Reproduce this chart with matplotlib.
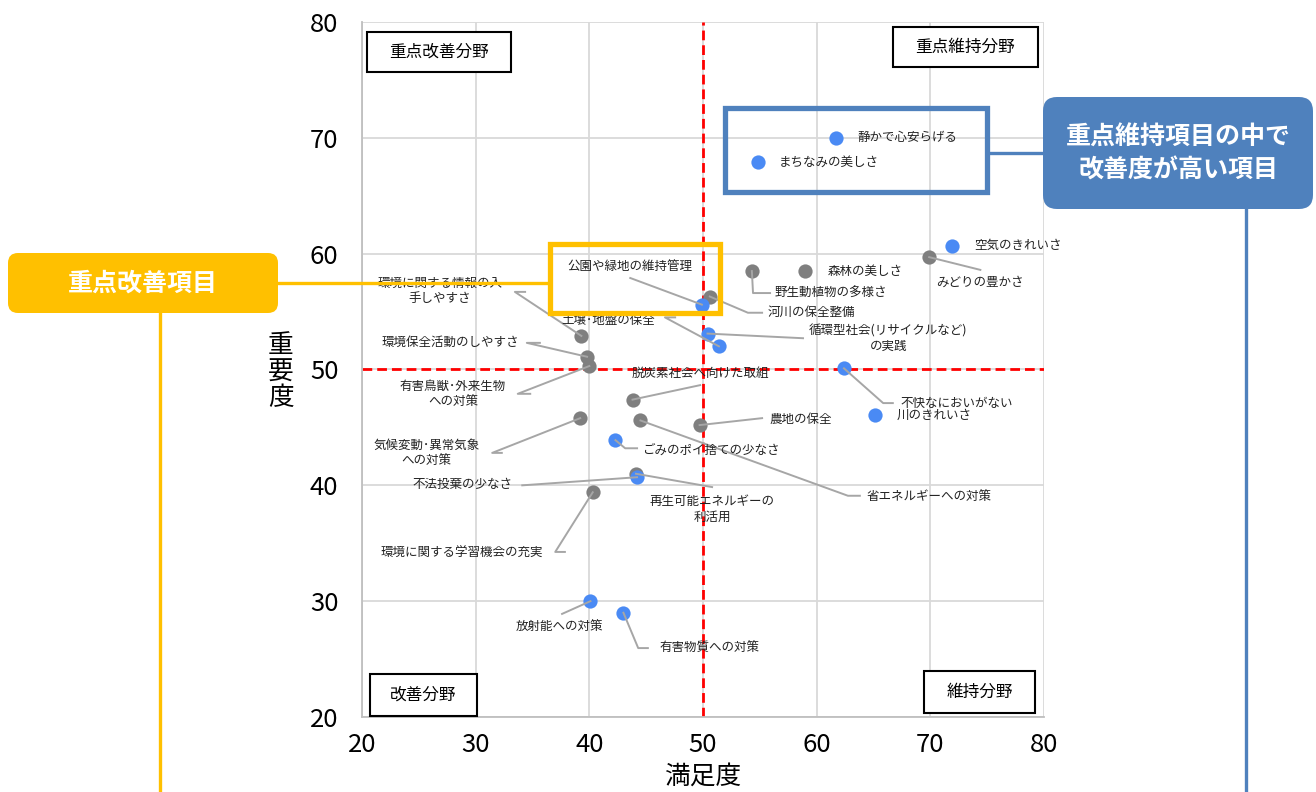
import matplotlib
matplotlib.use("Agg")
import matplotlib.pyplot as plt
from matplotlib.patches import FancyBboxPatch, Rectangle

plt.rcParams['font.family'] = ['Noto Sans CJK JP', 'DejaVu Sans']

# data: 満足度 (x), 重要度 (y)
items = ['静かで心安らげる', 'まちなみの美しさ', '空気のきれいさ', 'みどりの豊かさ',
         '森林の美しさ', '野生動植物の多様さ', '河川の保全整備', '公園や緑地の維持管理',
         '循環型社会(リサイクルなど)\nの実践', '土壌･地盤の保全', '不快なにおいがない',
         '川のきれいさ', '環境に関する情報の入\n手しやすさ', '環境保全活動のしやすさ',
         '有害鳥獣･外来生物\nへの対策', '脱炭素社会へ向けた取組', '気候変動･異常気象\nへの対策',
         '省エネルギーへの対策', '農地の保全', 'ごみのポイ捨ての少なさ',
         '再生可能エネルギーの\n利活用', '不法投棄の少なさ', '環境に関する学習機会の充実',
         '放射能への対策', '有害物質への対策']
satisfaction = [61.7, 54.8, 71.9, 69.9, 59.0, 54.3, 50.6, 49.9, 50.4, 51.4, 62.4, 65.1,
                39.3, 39.8, 40.0, 43.8, 39.2, 44.5, 49.7, 42.3, 44.1, 44.2, 40.3, 40.1, 43.0]
importance = [70.0, 67.9, 60.7, 59.7, 58.5, 58.5, 56.3, 55.6, 53.1, 52.0, 50.1, 46.1,
              52.9, 51.1, 50.3, 47.4, 45.8, 45.6, 45.2, 43.9, 41.0, 40.7, 39.4, 30.0, 29.0]
group = ['b', 'b', 'b', 'g', 'g', 'g', 'g', 'b', 'b', 'b', 'b', 'b',
         'g', 'g', 'g', 'g', 'g', 'g', 'g', 'b', 'g', 'b', 'g', 'b', 'b']

# label placement: (text x, text y, ha, leader bend points)
label_pos = [
    (63.55, 70.0, 'left', []),
    (56.7, 67.9, 'left', []),
    (73.85, 60.75, 'left', []),
    (74.4, 57.55, 'center', [(74.4, 58.6)]),
    (61.0, 58.5, 'left', []),
    (61.2, 56.6, 'center', [(54.4, 56.6), (55.9, 56.6)]),
    (59.5, 54.9, 'center', [(53.95, 54.9), (55.2, 54.9)]),
    (43.6, 58.85, 'center', [(43.6, 57.9)]),
    (66.3, 52.7, 'center', [(58.8, 52.7)]),
    (41.65, 54.25, 'center', [(46.65, 54.5), (47.55, 54.5)]),
    (72.35, 47.1, 'center', [(65.85, 47.1), (66.7, 47.1)]),
    (67.05, 46.0, 'left', []),
    (26.85, 56.8, 'center', [(33.45, 56.7), (34.35, 56.7)]),
    (27.75, 52.3, 'center', [(34.5, 52.3), (35.65, 52.3)]),
    (28.0, 47.9, 'center', [(33.7, 47.9), (34.8, 47.9)]),
    (49.8, 49.7, 'center', [(49.75, 48.65)]),
    (25.7, 42.8, 'center', [(31.45, 42.8), (32.3, 42.8)]),
    (69.9, 39.0, 'center', [(62.75, 39.1), (63.8, 39.1)]),
    (58.6, 45.65, 'center', [(55.2, 45.8)]),
    (50.7, 43.05, 'center', [(43.15, 43.2), (44.2, 43.2)]),
    (50.8, 37.9, 'center', [(50.8, 39.85)]),
    (28.8, 40.1, 'center', [(34.1, 40.0)]),
    (28.8, 34.15, 'center', [(37.0, 34.25), (37.85, 34.25)]),
    (37.4, 27.7, 'center', [(37.6, 28.9)]),
    (50.55, 25.95, 'center', [(44.3, 25.95), (45.15, 25.95)]),
]

x_ticks = [20, 30, 40, 50, 60, 70, 80]
y_ticks = [20, 30, 40, 50, 60, 70, 80]

W, H = 1316, 792
fig = plt.figure(figsize=(W / 100, H / 100), dpi=100)
ax = fig.add_axes([362 / W, 1 - 717 / H, 682 / W, 695 / H])

ax.set_xlim(20, 80)
ax.set_ylim(20, 80)
ax.set_xticks(x_ticks)
ax.set_yticks(y_ticks)
ax.tick_params(length=0, labelsize=18.5)
ax.tick_params(axis='y', pad=17)
ax.tick_params(axis='x', pad=11)
ax.grid(True, color='#D9D9D9', lw=1.3)
ax.set_axisbelow(True)
for s in ['top', 'right']:
    ax.spines[s].set_visible(False)
for s in ['left', 'bottom']:
    ax.spines[s].set_color('#BFBFBF')
    ax.spines[s].set_linewidth(1.3)

ax.axvline(50, color='#FF0000', lw=2, ls=(0, (3.5, 1.8)), zorder=2)
ax.axhline(50, color='#FF0000', lw=2, ls=(0, (3.5, 1.8)), zorder=2)

ax.set_xlabel('満足度', fontsize=18.5, va='center')
ax.xaxis.set_label_coords(0.5, -0.086)
ax.set_ylabel('重\n要\n度', fontsize=18.5, rotation=0, linespacing=1.0, va='center')
ax.yaxis.set_label_coords(-0.119, 0.496)

gx = [x for x, g in zip(satisfaction, group) if g == 'g']
gy = [y for y, g in zip(importance, group) if g == 'g']
bx = [x for x, g in zip(satisfaction, group) if g == 'b']
by = [y for y, g in zip(importance, group) if g == 'b']
ax.scatter(gx, gy, s=105, color='#7F7F7F', zorder=3, linewidths=0)
ax.scatter(bx, by, s=105, color='#4A8AF4', zorder=4, linewidths=0)

for name, x, y, (tx, ty, ha, bends) in zip(items, satisfaction, importance, label_pos):
    if bends:
        px = [x] + [b[0] for b in bends]
        py = [y] + [b[1] for b in bends]
        ax.plot(px, py, color='#A6A6A6', lw=1.4, zorder=5)
    ax.text(tx, ty, name, fontsize=9, ha=ha, va='center', multialignment='center',
            linespacing=1.25, zorder=6, color='#222222')

# overlay for callouts, in pixel coordinates
ov = fig.add_axes([0, 0, 1, 1])
ov.set_xlim(0, W)
ov.set_ylim(H, 0)
ov.axis('off')
ov.patch.set_visible(False)

yellow = '#FFC000'
blue = '#4F81BD'

# quadrant boxes
quad = [('重点改善分野', 367, 32, 144, 40), ('重点維持分野', 893, 27, 145, 40),
        ('改善分野', 370, 674, 107, 42), ('維持分野', 924, 671, 111, 42)]
for t, x0, y0, w, h in quad:
    ov.add_patch(Rectangle((x0, y0), w, h, fc='white', ec='black', lw=1.5))
    ov.text(x0 + w / 2, y0 + h / 2, t, fontsize=12, ha='center', va='center')

# yellow callout
ov.add_patch(FancyBboxPatch((8, 253), 270, 60, boxstyle='round,pad=0,rounding_size=10',
                            fc=yellow, ec='none'))
ov.text(143, 284, '重点改善項目', fontsize=18, fontweight='bold', color='white',
        ha='center', va='center')
ov.plot([278, 550], [283, 283], color=yellow, lw=2.4)
ov.plot([160, 160], [313, 792], color=yellow, lw=2.4)
ov.add_patch(Rectangle((550, 244), 170, 69, fc='none', ec=yellow, lw=3.8))

# blue callout
ov.add_patch(FancyBboxPatch((1043, 97), 270, 112, boxstyle='round,pad=0,rounding_size=14',
                            fc=blue, ec='none'))
ov.text(1178, 154, '重点維持項目の中で\n改善度が高い項目', fontsize=18, fontweight='bold',
        color='white', ha='center', va='center', linespacing=1.45)
ov.plot([987, 1043], [153, 153], color=blue, lw=2.4)
ov.plot([1246, 1246], [209, 792], color=blue, lw=2.4)
ov.add_patch(Rectangle((725, 108), 262, 84, fc='none', ec=blue, lw=3.8))

fig.savefig('out.png', dpi=100)
